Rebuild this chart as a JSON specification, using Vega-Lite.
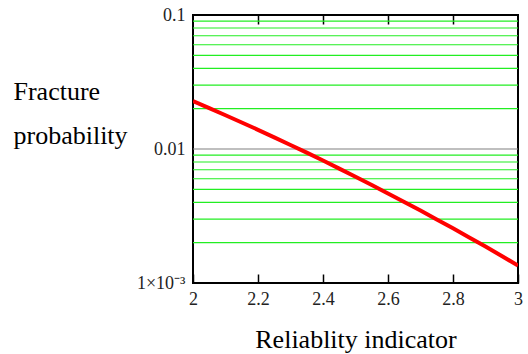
{
  "$schema": "https://vega.github.io/schema/vega-lite/v6.json",
  "autosize": {"type": "none"},
  "width": 325,
  "height": 268,
  "padding": {"left": 193, "top": 15, "right": 10, "bottom": 71},
  "background": "white",
  "config": {
    "view": {"stroke": "#000000", "strokeWidth": 2},
    "font": "Liberation Serif"
  },
  "datasets": {
    "grid": [
      {"g": 0.002, "kind": "minor"}, {"g": 0.003, "kind": "minor"}, {"g": 0.004, "kind": "minor"},
      {"g": 0.005, "kind": "minor"}, {"g": 0.006, "kind": "minor"}, {"g": 0.007, "kind": "minor"},
      {"g": 0.008, "kind": "minor"}, {"g": 0.009, "kind": "minor"}, {"g": 0.01, "kind": "major"},
      {"g": 0.02, "kind": "minor"}, {"g": 0.03, "kind": "minor"}, {"g": 0.04, "kind": "minor"},
      {"g": 0.05, "kind": "minor"}, {"g": 0.06, "kind": "minor"}, {"g": 0.07, "kind": "minor"},
      {"g": 0.08, "kind": "minor"}, {"g": 0.09, "kind": "minor"}
    ],
    "curve": [
      {"beta": 2.0, "p": 0.02275}, {"beta": 2.05, "p": 0.02018}, {"beta": 2.1, "p": 0.01786},
      {"beta": 2.15, "p": 0.01578}, {"beta": 2.2, "p": 0.0139}, {"beta": 2.25, "p": 0.01222},
      {"beta": 2.3, "p": 0.01072}, {"beta": 2.35, "p": 0.00939}, {"beta": 2.4, "p": 0.0082},
      {"beta": 2.45, "p": 0.00714}, {"beta": 2.5, "p": 0.00621}, {"beta": 2.55, "p": 0.00539},
      {"beta": 2.6, "p": 0.00466}, {"beta": 2.65, "p": 0.00402}, {"beta": 2.7, "p": 0.00347},
      {"beta": 2.75, "p": 0.00298}, {"beta": 2.8, "p": 0.00256}, {"beta": 2.85, "p": 0.00219},
      {"beta": 2.9, "p": 0.00187}, {"beta": 2.95, "p": 0.00159}, {"beta": 3.0, "p": 0.00135}
    ]
  },
  "layer": [
    {
      "data": {"name": "grid"},
      "mark": {"type": "rule", "strokeWidth": 1.2},
      "encoding": {
        "y": {
          "field": "g", "type": "quantitative",
          "scale": {"type": "log", "domain": [0.001, 0.1], "nice": false},
          "axis": {
            "orient": "left",
            "values": [0.001, 0.01, 0.1],
            "labelExpr": "datum.value < 0.005 ? '1×10⁻³' : datum.value < 0.05 ? '0.01' : '0.1'",
            "grid": false, "ticks": false, "domain": false,
            "labelFont": "Liberation Serif", "labelFontSize": 18, "labelColor": "#222222",
            "labelPadding": 8,
            "title": ["Fracture", "probability"],
            "titleAngle": 0, "titleAlign": "left", "titleBaseline": "alphabetic",
            "titleX": -180, "titleY": 84, "titleLineHeight": 44,
            "titleFont": "Liberation Serif", "titleFontSize": 26, "titleFontWeight": "normal",
            "titleColor": "#000000"
          }
        },
        "color": {
          "field": "kind", "type": "nominal",
          "scale": {"domain": ["minor", "major"], "range": ["#22ee22", "#808080"]},
          "legend": null
        }
      }
    },
    {
      "data": {"name": "curve"},
      "mark": {"type": "line", "color": "#ff0000", "strokeWidth": 4, "clip": true},
      "encoding": {
        "x": {
          "field": "beta", "type": "quantitative",
          "scale": {"domain": [2, 3], "nice": false, "zero": false},
          "axis": {
            "orient": "bottom",
            "values": [2, 2.2, 2.4, 2.6, 2.8, 3],
            "format": "~g",
            "grid": false, "domain": false,
            "ticks": true, "tickSize": -9, "tickColor": "#000000", "tickWidth": 1.5,
            "labelFlush": false, "labelOverlap": false,
            "labelFont": "Liberation Serif", "labelFontSize": 18, "labelColor": "#222222",
            "labelPadding": 16, "labelDx": 3,
            "title": "Reliablity indicator",
            "titleFont": "Liberation Serif", "titleFontSize": 26, "titleFontWeight": "normal",
            "titleColor": "#000000",
            "titleBaseline": "alphabetic", "titleY": 64
          }
        },
        "y": {"field": "p", "type": "quantitative"}
      }
    },
    {
      "data": {"name": "curve"},
      "mark": {"type": "point", "opacity": 0},
      "encoding": {
        "x": {
          "field": "beta", "type": "quantitative",
          "axis": {
            "orient": "top",
            "values": [2.2, 2.4, 2.6, 2.8],
            "grid": false, "domain": false, "labels": false, "title": null,
            "ticks": true, "tickSize": -9, "tickColor": "#000000", "tickWidth": 1.5
          }
        },
        "y": {"field": "p", "type": "quantitative"}
      }
    }
  ]
}
